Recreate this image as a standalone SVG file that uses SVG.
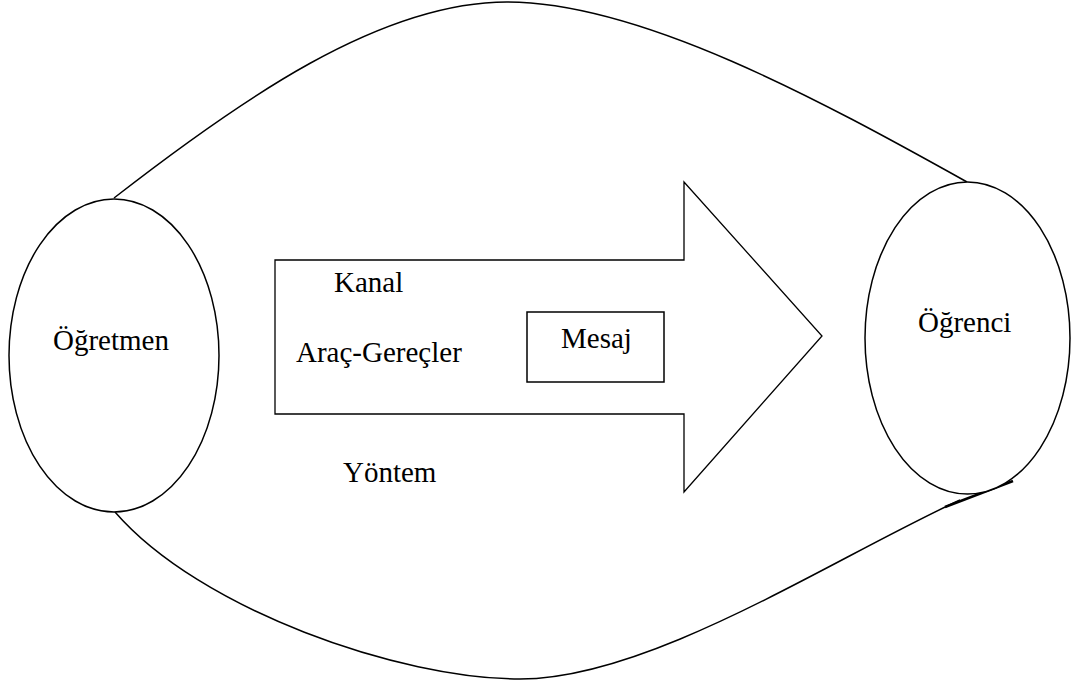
<svg xmlns="http://www.w3.org/2000/svg" width="1072" height="687" viewBox="0 0 1072 687">
<style>
  .shape { fill: #ffffff; stroke: #000000; stroke-width: 1.5; }
  .line { fill: none; stroke: #000000; stroke-width: 1.5; }
  .lbl { font-family: "Liberation Serif", "Times New Roman", serif; font-size: 29px; fill: #000000; }
</style>
<rect x="0" y="0" width="1072" height="687" fill="#ffffff"/>
<g id="connectors">
  <path class="line" d="M114,198 C240,100 380,2 507,2 C640,2 820,100 967,182"/>
  <path class="line" d="M115,512 C200,610 400,679 520,679 C650,679 830,560 960,500"/>
  <path class="line" style="stroke-width:2.5" d="M945,507 L1013,481"/>
</g>
<g id="arrow">
  <polygon class="shape" style="stroke-width:1.3" points="275,260 684,260 684,182 822,336 684,492 684,414 275,414"/>
</g>
<g id="ogretmen">
  <ellipse class="shape" cx="114" cy="355.5" rx="105" ry="156.5"/>
  <text class="lbl" x="53" y="350">Öğretmen</text>
</g>
<g id="ogrenci">
  <ellipse class="shape" cx="967.5" cy="338" rx="102.5" ry="156"/>
  <text class="lbl" x="918" y="332">Öğrenci</text>
</g>
<g id="kanal">
  <text class="lbl" x="334" y="292">Kanal</text>
</g>
<g id="arac-gerecler">
  <text class="lbl" x="296" y="362">Araç-Gereçler</text>
</g>
<g id="mesaj">
  <rect class="shape" x="527" y="312" width="137" height="70"/>
  <text class="lbl" x="561" y="348">Mesaj</text>
</g>
<g id="yontem">
  <text class="lbl" x="343" y="482">Yöntem</text>
</g>
</svg>
